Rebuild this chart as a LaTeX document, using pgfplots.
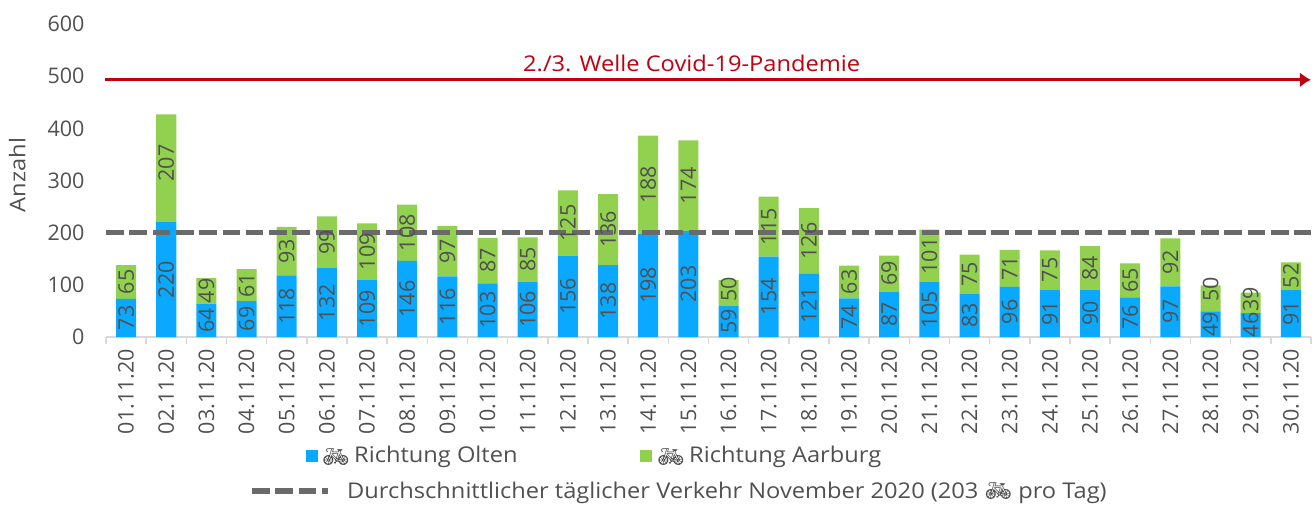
\documentclass[border=0pt]{standalone}
\usepackage{pgfplots}
\usepackage{pgfplotstable}
\pgfplotsset{compat=1.18}
\usetikzlibrary{arrows.meta}
\usepackage{fontspec}
\setmainfont{Open Sans}
\newfontfamily\emoji{Noto Emoji}
\newfontfamily\wide[FakeStretch=1.09]{Open Sans}
\newcommand{\bike}{{\emoji\symbol{"1F6B2}}}
\newcommand{\txtfont}{\fontsize{21.7}{24}\wide}
\newcommand{\numfont}{\fontsize{21.5}{24}\selectfont}
\definecolor{cblue}{HTML}{0AA9FF}
\definecolor{cgreen}{HTML}{92D050}
\definecolor{ctext}{HTML}{505050}
\definecolor{cdash}{HTML}{6A6A6A}
\definecolor{cred}{HTML}{C00010}
\definecolor{cgrid}{HTML}{D9D9D9}
\pgfplotstableread{
i a b d
0 73 65 0
1 220 207 10
2 64 49 0
3 69 61 0
4 118 93 0
5 132 99 0
6 109 109 0
7 146 108 0
8 116 97 0
9 103 87 0
10 106 85 0
11 156 125 0
12 138 136 0
13 198 188 0
14 203 174 0
15 59 50 8
16 154 115 0
17 121 126 0
18 74 63 0
19 87 69 0
20 105 101 0
21 83 75 0
22 96 71 0
23 91 75 0
24 90 84 0
25 76 65 0
26 97 92 0
27 49 50 18
28 46 39 7
29 91 52 0
}\data
\begin{document}
\begin{tikzpicture}[x=1pt,y=1pt]
\path[use as bounding box] (0,0) rectangle (1315,504);
\begin{axis}[
  at={(106pt,167pt)}, anchor=south west,
  scale only axis, width=1205pt, height=313pt,
  xmin=-0.5, xmax=29.5, ymin=0, ymax=600,
  ybar stacked, bar width=20pt,
  axis x line*=bottom, axis y line=none,
  axis line style={cgrid, line width=1.5pt, -},
  ymajorgrids, grid style={cgrid, line width=1.5pt},
  ytick={0,100,...,600},
  xtick={0,1,...,29},
  xticklabels={01.11.20,02.11.20,03.11.20,04.11.20,05.11.20,06.11.20,07.11.20,08.11.20,09.11.20,10.11.20,11.11.20,12.11.20,13.11.20,14.11.20,15.11.20,16.11.20,17.11.20,18.11.20,19.11.20,20.11.20,21.11.20,22.11.20,23.11.20,24.11.20,25.11.20,26.11.20,27.11.20,28.11.20,29.11.20,30.11.20},
  x tick label style={rotate=90, anchor=east, font=\numfont, text=ctext, xshift=-4pt},
  major x tick style={draw=none},
  minor xtick={-0.5,0.5,...,29.5},
  minor tick length=7pt,
  tick align=outside,
  minor x tick style={cgrid, line width=1.5pt},
  clip=false,
]
\addplot[fill=cblue, draw=none] table[x=i, y=a] {\data};
\addplot[fill=cgreen, draw=none] table[x=i, y=b] {\data};
\end{axis}
\begin{axis}[
  at={(106pt,167pt)}, anchor=south west,
  scale only axis, width=1205pt, height=313pt,
  xmin=-0.5, xmax=29.5, ymin=0, ymax=600,
  axis x line=none, axis y line=left,
  axis line style={draw=none},
  ytick={0,100,...,600},
  major tick length=0pt,
  y tick label style={font=\numfont, text=ctext, xshift=-18pt},
  /pgf/number format/assume math mode=true,
  ylabel={Anzahl},
  every axis y label/.style={at={(-88pt,162pt)}, rotate=90, anchor=center, font=\txtfont, text=ctext},
  clip=false,
  point meta=explicit,
  nodes near coords style={rotate=90, anchor=center, inner sep=0pt, font=\numfont, text=ctext, /pgf/number format/assume math mode=true},
]
\addplot[draw=none, mark=none, nodes near coords, forget plot]
  table[x=i, y expr=\thisrow{a}/2, meta=a] {\data};
\addplot[draw=none, mark=none, nodes near coords, forget plot]
  table[x=i, y expr=\thisrow{a}+\thisrow{b}/2+\thisrow{d}, meta=b] {\data};
\addplot[cdash, line width=5.5pt, dash pattern=on 17.6pt off 5.7pt, forget plot] coordinates {(-0.5,200) (29.5,200)};
\addplot[cred, line width=3.3pt, -{Latex[length=11pt,width=15pt]}, forget plot] coordinates {(-0.52,493) (29.5,493)};
\node[text=cred, font=\txtfont] at (axis cs:14.08,524) {2./3. Welle Covid-19-Pandemie};
\end{axis}
\fill[cblue] (306,42) rectangle (318,54);
\node[anchor=west, inner sep=0pt, text=ctext, font=\txtfont] at (322,47) {\bike};
\node[anchor=west, inner sep=0pt, text=ctext, font=\txtfont] at (354,47) {Richtung Olten};
\fill[cgreen] (640,42) rectangle (652,54);
\node[anchor=west, inner sep=0pt, text=ctext, font=\txtfont] at (657,47) {\bike};
\node[anchor=west, inner sep=0pt, text=ctext, font=\txtfont] at (689,47) {Richtung Aarburg};
\draw[cdash, line width=5.5pt, dash pattern=on 17.6pt off 5.7pt] (252,13) -- (328,13);
\node[anchor=west, inner sep=0pt, text=ctext, font=\txtfont] at (347,11) {Durchschnittlicher täglicher Verkehr November 2020 (203 \bike\ pro Tag)};
\end{tikzpicture}
\end{document}
